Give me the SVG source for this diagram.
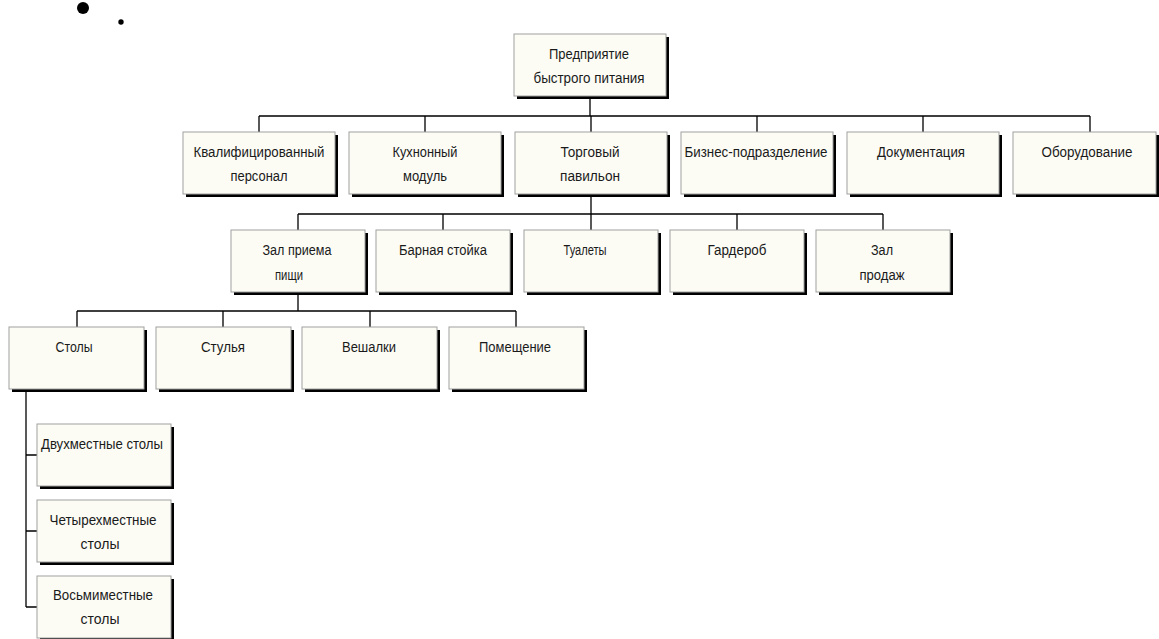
<svg xmlns="http://www.w3.org/2000/svg" width="1159" height="639" viewBox="0 0 1159 639">
<defs>
<style>
.sh{fill:#000}
.bx{fill:#fcfcf5;stroke:#a0a0a0;stroke-width:1}
.t{font-family:"Liberation Sans","DejaVu Sans",sans-serif;font-size:14px;fill:#1a1a1a;text-anchor:middle}
.c{fill:none;stroke:#000;stroke-width:1.3}
</style>
</defs>
<rect width="1159" height="639" fill="#fff"/>
<circle cx="83" cy="8" r="6" fill="#000"/>
<circle cx="121" cy="22" r="2.7" fill="#000"/>

<g id="connectors" class="c">
<path d="M590 99V116M259 116H1090M259 116V132M425 116V132M591 116V132M757 116V132M923 116V132M1090 116V132"/>
<path d="M591 197V214M298 214H883M298 214V230M443 214V230M591 214V230M737 214V230M883 214V230"/>
<path d="M298 295V311M77 311H516M77 311V327M223 311V327M370 311V327M516 311V327"/>
<path d="M26 392V607M26 455H37M26 531H37M26 607H37"/>
</g>

<g id="n-root"><rect class="sh" x="517" y="37" width="152" height="62"/><rect class="bx" x="514" y="34" width="152" height="62"/>
<text class="t" x="589" y="59" textLength="80" lengthAdjust="spacingAndGlyphs">Предприятие</text>
<text class="t" x="589" y="83" textLength="111" lengthAdjust="spacingAndGlyphs">быстрого питания</text></g>

<g id="n-personal"><rect class="sh" x="186" y="135" width="152" height="62"/><rect class="bx" x="183" y="132" width="152" height="62"/>
<text class="t" x="259" y="157" textLength="131" lengthAdjust="spacingAndGlyphs">Квалифицированный</text>
<text class="t" x="259" y="181" textLength="57" lengthAdjust="spacingAndGlyphs">персонал</text></g>

<g id="n-kitchen"><rect class="sh" x="352" y="135" width="152" height="62"/><rect class="bx" x="349" y="132" width="152" height="62"/>
<text class="t" x="425" y="157" textLength="65" lengthAdjust="spacingAndGlyphs">Кухнонный</text>
<text class="t" x="425" y="181" textLength="44" lengthAdjust="spacingAndGlyphs">модуль</text></g>

<g id="n-pavilion"><rect class="sh" x="518" y="135" width="152" height="62"/><rect class="bx" x="515" y="132" width="152" height="62"/>
<text class="t" x="590" y="157" textLength="59" lengthAdjust="spacingAndGlyphs">Торговый</text>
<text class="t" x="590" y="181" textLength="60" lengthAdjust="spacingAndGlyphs">павильон</text></g>

<g id="n-business"><rect class="sh" x="684" y="135" width="152" height="62"/><rect class="bx" x="681" y="132" width="152" height="62"/>
<text class="t" x="756" y="157" textLength="143" lengthAdjust="spacingAndGlyphs">Бизнес-подразделение</text></g>

<g id="n-docs"><rect class="sh" x="850" y="135" width="152" height="62"/><rect class="bx" x="847" y="132" width="152" height="62"/>
<text class="t" x="921" y="157" textLength="88" lengthAdjust="spacingAndGlyphs">Документация</text></g>

<g id="n-equipment"><rect class="sh" x="1016" y="135" width="143" height="62"/><rect class="bx" x="1013" y="132" width="143" height="62"/>
<text class="t" x="1087" y="157" textLength="91" lengthAdjust="spacingAndGlyphs">Оборудование</text></g>

<g id="n-dining"><rect class="sh" x="234" y="233" width="134" height="62"/><rect class="bx" x="231" y="230" width="134" height="62"/>
<text class="t" x="297" y="255" textLength="69" lengthAdjust="spacingAndGlyphs">Зал приема</text>
<text class="t" x="289" y="280" textLength="28" lengthAdjust="spacingAndGlyphs">пищи</text></g>

<g id="n-bar"><rect class="sh" x="379" y="233" width="134" height="62"/><rect class="bx" x="376" y="230" width="134" height="62"/>
<text class="t" x="443" y="255" textLength="88" lengthAdjust="spacingAndGlyphs">Барная стойка</text></g>

<g id="n-toilets"><rect class="sh" x="527" y="233" width="134" height="62"/><rect class="bx" x="524" y="230" width="134" height="62"/>
<text class="t" x="585" y="255" textLength="43" lengthAdjust="spacingAndGlyphs">Туалеты</text></g>

<g id="n-wardrobe"><rect class="sh" x="673" y="233" width="134" height="62"/><rect class="bx" x="670" y="230" width="134" height="62"/>
<text class="t" x="737" y="255" textLength="59" lengthAdjust="spacingAndGlyphs">Гардероб</text></g>

<g id="n-sales"><rect class="sh" x="819" y="233" width="134" height="62"/><rect class="bx" x="816" y="230" width="134" height="62"/>
<text class="t" x="882" y="255" textLength="22" lengthAdjust="spacingAndGlyphs">Зал</text>
<text class="t" x="882" y="280" textLength="45" lengthAdjust="spacingAndGlyphs">продаж</text></g>

<g id="n-tables"><rect class="sh" x="12" y="330" width="135" height="62"/><rect class="bx" x="9" y="327" width="135" height="62"/>
<text class="t" x="74" y="352" textLength="37" lengthAdjust="spacingAndGlyphs">Столы</text></g>

<g id="n-chairs"><rect class="sh" x="159" y="330" width="135" height="62"/><rect class="bx" x="156" y="327" width="135" height="62"/>
<text class="t" x="223" y="352" textLength="44" lengthAdjust="spacingAndGlyphs">Стулья</text></g>

<g id="n-hangers"><rect class="sh" x="305" y="330" width="135" height="62"/><rect class="bx" x="302" y="327" width="135" height="62"/>
<text class="t" x="369" y="352" textLength="54" lengthAdjust="spacingAndGlyphs">Вешалки</text></g>

<g id="n-room"><rect class="sh" x="452" y="330" width="135" height="62"/><rect class="bx" x="449" y="327" width="135" height="62"/>
<text class="t" x="515" y="352" textLength="72" lengthAdjust="spacingAndGlyphs">Помещение</text></g>

<g id="n-two"><rect class="sh" x="40" y="427" width="134" height="62"/><rect class="bx" x="37" y="424" width="134" height="62"/>
<text class="t" x="102" y="449" textLength="122" lengthAdjust="spacingAndGlyphs">Двухместные столы</text></g>

<g id="n-four"><rect class="sh" x="40" y="503" width="134" height="62"/><rect class="bx" x="37" y="500" width="134" height="62"/>
<text class="t" x="103" y="525" textLength="107" lengthAdjust="spacingAndGlyphs">Четырехместные</text>
<text class="t" x="100" y="549" textLength="39" lengthAdjust="spacingAndGlyphs">столы</text></g>

<g id="n-eight"><rect class="sh" x="40" y="579" width="134" height="62"/><rect class="bx" x="37" y="576" width="134" height="62"/>
<text class="t" x="103" y="600" textLength="100" lengthAdjust="spacingAndGlyphs">Восьмиместные</text>
<text class="t" x="100" y="624" textLength="39" lengthAdjust="spacingAndGlyphs">столы</text></g>
</svg>
